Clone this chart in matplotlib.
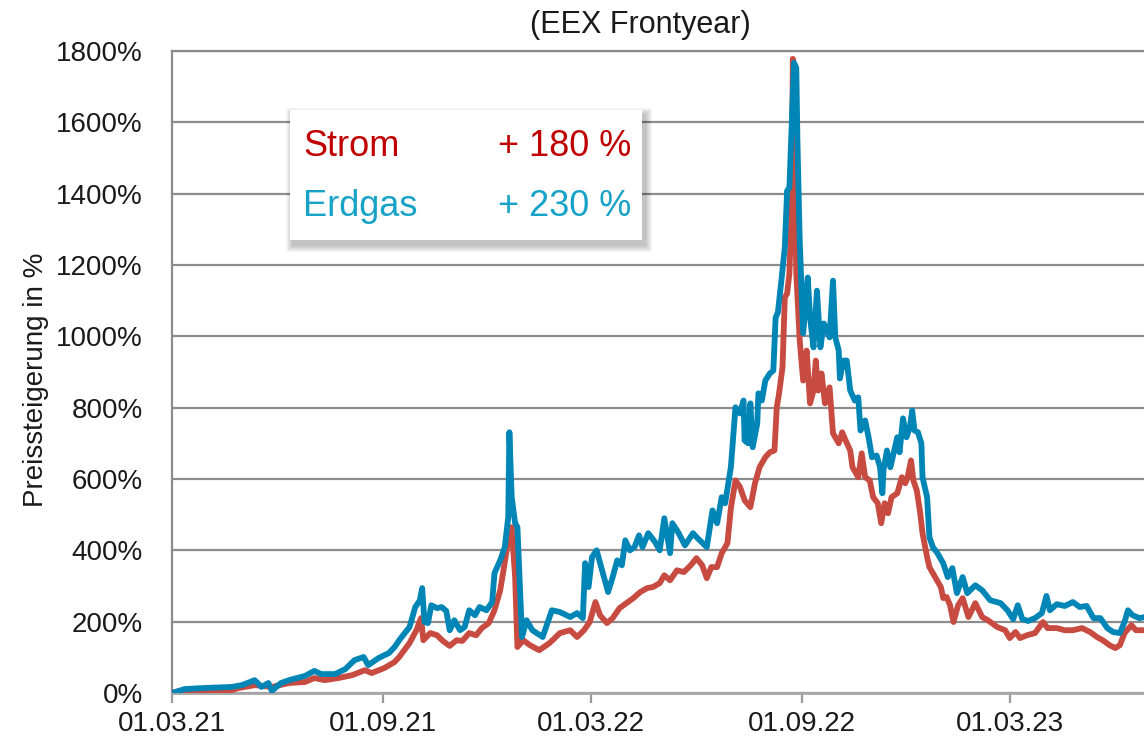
import matplotlib
matplotlib.use("Agg")
import matplotlib.pyplot as plt
from matplotlib import font_manager as fm
from matplotlib.patches import Rectangle
import pandas as pd

# ---------------- data ----------------
gas_dates = [
    "2021-03-01", "2021-03-12", "2021-03-29", "2021-04-22", "2021-05-01", "2021-05-12", "2021-05-18",
    "2021-05-24", "2021-05-27", "2021-06-04", "2021-06-11", "2021-06-25", "2021-07-03", "2021-07-09",
    "2021-07-21", "2021-07-30", "2021-08-07", "2021-08-15", "2021-08-19", "2021-08-28", "2021-09-06",
    "2021-09-11", "2021-09-15",
    "2021-09-24", "2021-09-29", "2021-10-03", "2021-10-05", "2021-10-07", "2021-10-10", "2021-10-13",
    "2021-10-18", "2021-10-22", "2021-10-26", "2021-10-29", "2021-11-02", "2021-11-07", "2021-11-11",
    "2021-11-15", "2021-11-20", "2021-11-24", "2021-11-30", "2021-12-05", "2021-12-07", "2021-12-12",
    "2021-12-16", "2021-12-19", "2021-12-20", "2021-12-22", "2021-12-25", "2021-12-27", "2021-12-31",
    "2022-01-04", "2022-01-09", "2022-01-18", "2022-01-26", "2022-02-02", "2022-02-11", "2022-02-17",
    "2022-02-22", "2022-02-24", "2022-02-27", "2022-03-02", "2022-03-06", "2022-03-10", "2022-03-16",
    "2022-03-20", "2022-03-24", "2022-03-28", "2022-03-31", "2022-04-04", "2022-04-08", "2022-04-12",
    "2022-04-15", "2022-04-20", "2022-04-26", "2022-04-30", "2022-05-04", "2022-05-09", "2022-05-11",
    "2022-05-16", "2022-05-22", "2022-05-29", "2022-06-02", "2022-06-10", "2022-06-15", "2022-06-19",
    "2022-06-23", "2022-06-26", "2022-07-01", "2022-07-05", "2022-07-09", "2022-07-12", "2022-07-13",
    "2022-07-16", "2022-07-18", "2022-07-20", "2022-07-24", "2022-07-25", "2022-07-28", "2022-07-31",
    "2022-08-04", "2022-08-07", "2022-08-09", "2022-08-11", "2022-08-14", "2022-08-17", "2022-08-19",
    "2022-08-21", "2022-08-23", "2022-08-25", "2022-08-27", "2022-08-28", "2022-08-30", "2022-09-02",
    "2022-09-06", "2022-09-08", "2022-09-11", "2022-09-14", "2022-09-17", "2022-09-20", "2022-09-23",
    "2022-09-25", "2022-09-28", "2022-09-30", "2022-10-03", "2022-10-04", "2022-10-07", "2022-10-10",
    "2022-10-13", "2022-10-17", "2022-10-20", "2022-10-22", "2022-10-26", "2022-10-29", "2022-11-01",
    "2022-11-05", "2022-11-08", "2022-11-10", "2022-11-11", "2022-11-14", "2022-11-17", "2022-11-19",
    "2022-11-23", "2022-11-25", "2022-11-28", "2022-12-01", "2022-12-04", "2022-12-06", "2022-12-08",
    "2022-12-11", "2022-12-14", "2022-12-15", "2022-12-19", "2022-12-21", "2022-12-24", "2022-12-28",
    "2023-01-02", "2023-01-06", "2023-01-10", "2023-01-14", "2023-01-17", "2023-01-19", "2023-01-23",
    "2023-01-30", "2023-02-05", "2023-02-12", "2023-02-21", "2023-02-27", "2023-03-04", "2023-03-08",
    "2023-03-12", "2023-03-17", "2023-03-23", "2023-03-29", "2023-04-02", "2023-04-05", "2023-04-11",
    "2023-04-18", "2023-04-25", "2023-05-01", "2023-05-07", "2023-05-13", "2023-05-19", "2023-05-25",
    "2023-05-30", "2023-06-05", "2023-06-09", "2023-06-12", "2023-06-16", "2023-06-22", "2023-06-27",
]
gas_values = [
    0, 11, 14, 17, 22, 36, 17,
    28, 6, 28, 36, 48, 62, 53,
    53, 67, 92, 101, 78, 98, 112,
    129, 148,
    185, 241, 260, 294, 199, 196, 246,
    238, 241, 230, 176, 204, 176, 185,
    232, 218, 241, 232, 255, 336, 372,
    409, 493, 731, 549, 476, 465, 157,
    204, 176, 157, 232, 227, 213, 224,
    210, 364, 297, 381, 400, 353, 283,
    325, 372, 358, 428, 400, 409, 442,
    409, 448, 423, 400, 490, 392, 476,
    451, 414, 448, 434, 409, 512, 476,
    549, 532, 633, 801, 784, 820, 708,
    700, 812, 689, 756, 840, 820, 876,
    896, 904, 1053, 1067, 1156, 1249, 1408,
    1417, 1596, 1767, 1753, 1548, 1268, 1008,
    1165, 1053, 969, 1128, 969, 1036, 1016,
    997, 1156, 997, 960, 882, 932, 932,
    848, 820, 829, 736, 764, 717, 661,
    666, 633, 560, 624, 680, 633, 661,
    717, 675, 770, 717, 745, 792, 736,
    731, 700, 605, 549, 437, 409, 392,
    364, 325, 350, 280, 308, 325, 280,
    302, 288, 260, 252, 232, 207, 246,
    207, 202, 210, 224, 272, 232, 249,
    244, 255, 241, 244, 210, 210, 182,
    171, 168, 199, 232, 218, 210, 213,
]

strom_dates = [
    "2021-03-01", "2021-03-12", "2021-04-22", "2021-04-28", "2021-05-12", "2021-05-27", "2021-06-11",
    "2021-06-25", "2021-07-03", "2021-07-12", "2021-07-24", "2021-08-05", "2021-08-16", "2021-08-22",
    "2021-09-02", "2021-09-11", "2021-09-15", "2021-09-24", "2021-09-30", "2021-10-04", "2021-10-06",
    "2021-10-12", "2021-10-18", "2021-10-23", "2021-10-29", "2021-11-04", "2021-11-09", "2021-11-15",
    "2021-11-21", "2021-11-26", "2021-12-02", "2021-12-07", "2021-12-12", "2021-12-16", "2021-12-20",
    "2021-12-22", "2021-12-25", "2021-12-27",
    "2022-01-01", "2022-01-07", "2022-01-15", "2022-01-24", "2022-02-02", "2022-02-11", "2022-02-17",
    "2022-02-23", "2022-02-28", "2022-03-05", "2022-03-09", "2022-03-15", "2022-03-20", "2022-03-26",
    "2022-04-01", "2022-04-07", "2022-04-13", "2022-04-19", "2022-04-24", "2022-04-30", "2022-05-04",
    "2022-05-09", "2022-05-15", "2022-05-21", "2022-05-27", "2022-06-01", "2022-06-06", "2022-06-10",
    "2022-06-14", "2022-06-19", "2022-06-23", "2022-06-28", "2022-07-01", "2022-07-05", "2022-07-09",
    "2022-07-13", "2022-07-18", "2022-07-22", "2022-07-26", "2022-07-31", "2022-08-04", "2022-08-08",
    "2022-08-10", "2022-08-12", "2022-08-15", "2022-08-17", "2022-08-19", "2022-08-21", "2022-08-23",
    "2022-08-24", "2022-08-27", "2022-08-30", "2022-09-02", "2022-09-05", "2022-09-08", "2022-09-11",
    "2022-09-13", "2022-09-15", "2022-09-18", "2022-09-21", "2022-09-25", "2022-09-28", "2022-10-03",
    "2022-10-06", "2022-10-09", "2022-10-13", "2022-10-15", "2022-10-20", "2022-10-23", "2022-10-26",
    "2022-10-30", "2022-11-02", "2022-11-06", "2022-11-09", "2022-11-12", "2022-11-15", "2022-11-18",
    "2022-11-23", "2022-11-27", "2022-11-30", "2022-12-02", "2022-12-05", "2022-12-07", "2022-12-10",
    "2022-12-13", "2022-12-15", "2022-12-19", "2022-12-21", "2022-12-26", "2022-12-31",
    "2023-01-02", "2023-01-05", "2023-01-08", "2023-01-11", "2023-01-15", "2023-01-19", "2023-01-24",
    "2023-01-30", "2023-02-05", "2023-02-10", "2023-02-18", "2023-02-25", "2023-03-01", "2023-03-06",
    "2023-03-10", "2023-03-16", "2023-03-23", "2023-03-30", "2023-04-03", "2023-04-11", "2023-04-18",
    "2023-04-25", "2023-05-03", "2023-05-10", "2023-05-16", "2023-05-21", "2023-05-27", "2023-06-01",
    "2023-06-05", "2023-06-09", "2023-06-15", "2023-06-19", "2023-06-27",
]
strom_values = [
    0, 8, 8, 14, 22, 17, 28,
    31, 42, 36, 42, 50, 64, 56,
    70, 87, 101, 140, 176, 210, 148,
    168, 162, 146, 132, 148, 146, 168,
    162, 182, 196, 232, 288, 367, 448,
    465, 325, 129,
    148, 134, 120, 140, 168, 176, 157,
    176, 199, 255, 218, 196, 210, 238,
    252, 266, 283, 294, 297, 308, 330,
    316, 344, 339, 358, 378, 358, 322,
    353, 353, 392, 420, 518, 596, 577,
    540, 521, 588, 633, 661, 675, 680,
    801, 840, 913, 1109, 1120, 1176, 1361,
    1778, 1176, 988, 876, 960, 812, 848,
    932, 848, 896, 812, 857, 728, 700,
    731, 708, 680, 633, 605, 672, 605,
    596, 549, 532, 476, 532, 504, 549,
    560, 605, 588, 605, 652, 596, 568,
    504, 448, 381, 353, 325, 297,
    266, 269, 246, 199, 246, 266, 213,
    252, 213, 204, 185, 176, 154, 171,
    154, 162, 168, 199, 182, 182, 176,
    176, 182, 171, 157, 148, 134, 126,
    134, 168, 190, 176, 176,
]

y_ticks = [0, 200, 400, 600, 800, 1000, 1200, 1400, 1600, 1800]
x_ticks = ["2021-03-01", "2021-09-01", "2022-03-01", "2022-09-01", "2023-03-01"]
x_range = ["2021-03-01", "2023-06-26"]

title_text = "(EEX Frontyear)"
y_label = "Preissteigerung in %"
legend_names = ["Strom", "Erdgas"]
legend_changes = ["+ 180 %", "+ 230 %"]

# ---------------- style ----------------
names = {f.name for f in fm.fontManager.ttflist}
narrow = "Liberation Sans Narrow" in names
tick_font = ["Liberation Sans Narrow", "Liberation Sans"] if narrow else ["Liberation Sans"]
tick_size = 23 if narrow else 20
main_font = ["Liberation Sans", "DejaVu Sans"]

RED_LINE = "#C84B41"
BLUE_LINE = "#0086B6"
RED_TXT = "#C00000"
TEAL_TXT = "#17A2C8"
GRID = "#8C8C8C"
TXT = "#1A1A1A"

W, H = 1144, 745
fig = plt.figure(figsize=(W / 100, H / 100), dpi=100)
ax = fig.add_axes([172 / W, (H - 693) / H, 1 - 172 / W, 642 / H])

ax.plot(pd.to_datetime(strom_dates), strom_values, color=RED_LINE, lw=4.2,
        solid_joinstyle="round", solid_capstyle="round", zorder=3)
ax.plot(pd.to_datetime(gas_dates), gas_values, color=BLUE_LINE, lw=4.2,
        solid_joinstyle="round", solid_capstyle="round", zorder=4)

ax.set_yticks(y_ticks)
ax.set_yticklabels([f"{v}%" for v in y_ticks], fontfamily=tick_font, fontsize=tick_size, color=TXT)
xt = pd.to_datetime(x_ticks)
ax.set_xticks(xt)
ax.set_xticklabels([d.strftime("%d.%m.%y") for d in xt], fontfamily=tick_font,
                   fontsize=tick_size, color=TXT)
ax.set_xlim(pd.to_datetime(x_range[0]), pd.to_datetime(x_range[1]))
ax.set_ylim(0, 1800)

ax.yaxis.grid(True, color=GRID, lw=1.6)
ax.set_axisbelow(True)
ax.tick_params(axis="y", length=0, pad=21)
ax.tick_params(axis="x", length=7, width=1.6, color="#9A9A9A", pad=6, direction="out")
for s in ["left", "top"]:
    ax.spines[s].set_color(GRID)
    ax.spines[s].set_linewidth(1.6)
ax.spines["bottom"].set_color("#A6A6A6")
ax.spines["bottom"].set_linewidth(2.0)
ax.spines["right"].set_visible(False)

# legend box with soft shadow
px = 1 / 972.0
py = 1 / 642.0
bx0, by0 = (290 - 172) * px, (693 - 240) * py
bw, bh = (642 - 290) * px, (240 - 110) * py
for i in range(7):
    grow = (7 - i) * 1.0
    ax.add_patch(Rectangle((bx0 + 3 * px - grow * px, by0 - 5 * py - grow * py),
                           bw + 2 * grow * px, bh + 2 * grow * py,
                           transform=ax.transAxes, fc="black", ec="none",
                           alpha=0.035, zorder=5, clip_on=False))
ax.add_patch(Rectangle((bx0, by0), bw, bh, transform=ax.transAxes, fc="white",
                       ec="none", zorder=6, clip_on=False))

rows_y = [(693 - 147) * py, (693 - 207) * py]
cols = [RED_TXT, TEAL_TXT]
for name, chg, yy, c in zip(legend_names, legend_changes, rows_y, cols):
    ax.text((303 - 172) * px, yy, name, transform=ax.transAxes, ha="left", va="center",
            fontsize=26, color=c, fontfamily=main_font, zorder=7)
    ax.text((631 - 172) * px, yy, chg, transform=ax.transAxes, ha="right", va="center",
            fontsize=26, color=c, fontfamily=main_font, zorder=7)

fig.text(640 / W, 1 - 25 / H, title_text, ha="center", va="center", fontsize=22,
         color=TXT, fontfamily=main_font)
fig.text(36 / W, 1 - 380 / H, y_label, rotation=90, ha="center", va="center",
         fontsize=tick_size, color=TXT, fontfamily=tick_font)

fig.savefig("out.png", dpi=100)
